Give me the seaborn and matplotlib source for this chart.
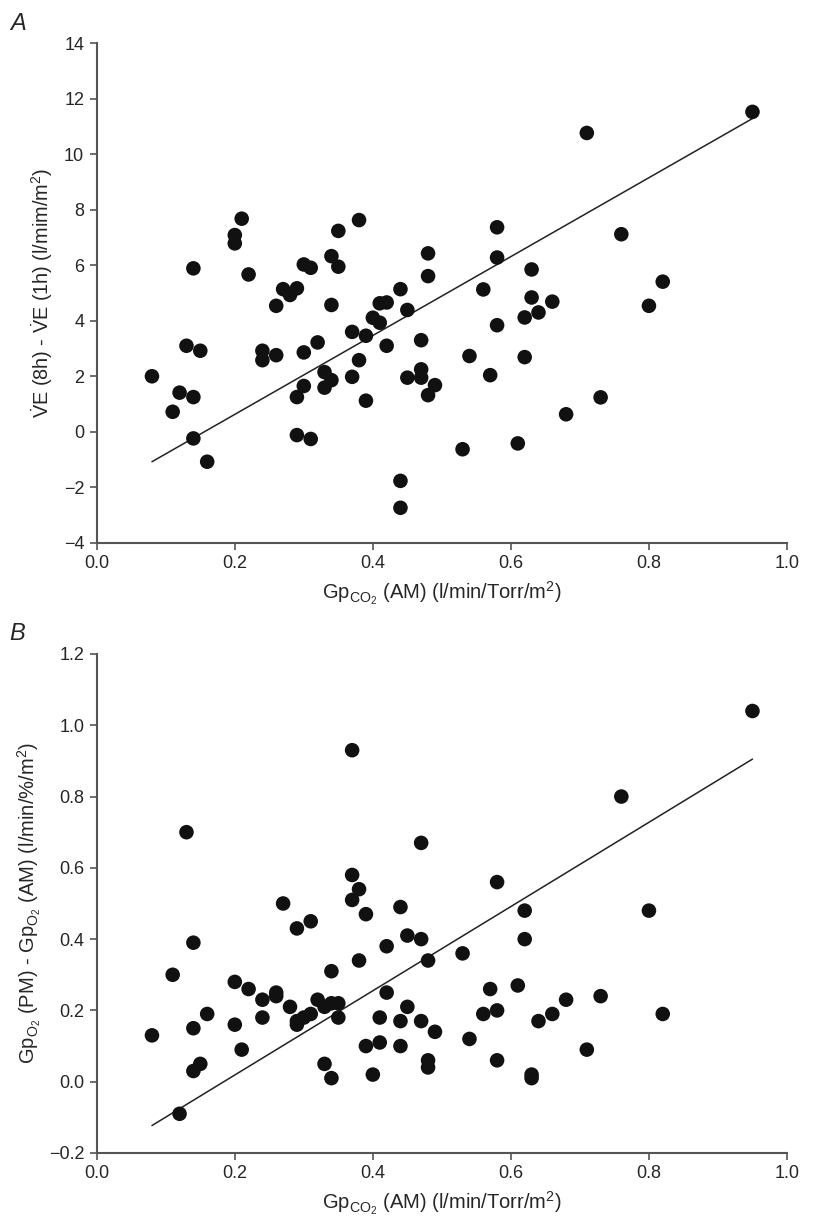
import numpy as np
import pandas as pd
import seaborn as sns
import matplotlib.pyplot as plt

# panel A: change in ventilation vs GpCO2 (AM)
gp_co2_a = [0.08, 0.11, 0.12, 0.13, 0.14, 0.14, 0.14, 0.15, 0.16, 0.20,
            0.20, 0.21, 0.22, 0.24, 0.24, 0.26, 0.26, 0.27, 0.28, 0.29,
            0.29, 0.29, 0.30, 0.30, 0.30, 0.31, 0.31, 0.32, 0.33, 0.33,
            0.34, 0.34, 0.34, 0.35, 0.35, 0.37, 0.37, 0.38, 0.38, 0.39,
            0.39, 0.40, 0.41, 0.41, 0.42, 0.42, 0.44, 0.44, 0.44, 0.45,
            0.45, 0.47, 0.47, 0.47, 0.48, 0.48, 0.48, 0.49, 0.95, 0.71,
            0.58, 0.58, 0.76, 0.63, 0.56, 0.63, 0.66, 0.62, 0.64, 0.82,
            0.80, 0.58, 0.54, 0.62, 0.57, 0.73, 0.68, 0.61, 0.53]
d_ve = [2.0, 0.72, 1.41, 3.10, 5.89, 1.25, -0.24, 2.92, -1.08, 7.09,
        6.79, 7.68, 5.67, 2.92, 2.58, 4.54, 2.76, 5.14, 4.93, 5.17,
        1.25, -0.12, 6.03, 2.86, 1.65, 5.91, -0.26, 3.22, 2.15, 1.59,
        6.33, 4.57, 1.86, 7.24, 5.95, 3.60, 1.98, 7.63, 2.58, 3.46,
        1.12, 4.11, 4.63, 3.93, 4.66, 3.10, 5.14, -1.77, -2.74, 4.39,
        1.95, 3.30, 2.25, 1.95, 6.43, 5.61, 1.32, 1.68, 11.53, 10.77,
        7.37, 6.28, 7.12, 5.85, 5.13, 4.84, 4.69, 4.12, 4.30, 5.41,
        4.54, 3.84, 2.73, 2.69, 2.04, 1.24, 0.63, -0.42, -0.63]

# panel B: change in GpO2 vs GpCO2 (AM)
gp_co2_b = [0.08, 0.11, 0.12, 0.13, 0.14, 0.14, 0.14, 0.15, 0.16, 0.20,
            0.20, 0.21, 0.22, 0.24, 0.24, 0.26, 0.26, 0.27, 0.28, 0.29,
            0.29, 0.29, 0.30, 0.31, 0.31, 0.32, 0.33, 0.33, 0.34, 0.34,
            0.34, 0.35, 0.35, 0.37, 0.37, 0.37, 0.38, 0.38, 0.39, 0.39,
            0.40, 0.41, 0.41, 0.42, 0.42, 0.44, 0.44, 0.44, 0.45, 0.45,
            0.47, 0.47, 0.47, 0.48, 0.48, 0.48, 0.49, 0.95, 0.76, 0.58,
            0.62, 0.62, 0.80, 0.53, 0.57, 0.61, 0.56, 0.58, 0.66, 0.64,
            0.68, 0.73, 0.82, 0.54, 0.58, 0.63, 0.63, 0.71]
d_gp_o2 = [0.13, 0.30, -0.09, 0.70, 0.39, 0.15, 0.03, 0.05, 0.19, 0.28,
           0.16, 0.09, 0.26, 0.23, 0.18, 0.25, 0.24, 0.50, 0.21, 0.43,
           0.17, 0.16, 0.18, 0.45, 0.19, 0.23, 0.21, 0.05, 0.31, 0.22,
           0.01, 0.22, 0.18, 0.93, 0.58, 0.51, 0.54, 0.34, 0.47, 0.10,
           0.02, 0.18, 0.11, 0.38, 0.25, 0.49, 0.17, 0.10, 0.41, 0.21,
           0.67, 0.40, 0.17, 0.34, 0.06, 0.04, 0.14, 1.04, 0.80, 0.56,
           0.48, 0.40, 0.48, 0.36, 0.26, 0.27, 0.19, 0.20, 0.19, 0.17,
           0.23, 0.24, 0.19, 0.12, 0.06, 0.02, 0.01, 0.09]

fit_x = [0.08, 0.95]
fit_a = [-1.08, 11.29]
fit_b = [-0.123, 0.905]

df_a = pd.DataFrame({'x': gp_co2_a, 'y': d_ve})
df_b = pd.DataFrame({'x': gp_co2_b, 'y': d_gp_o2})

sns.set_style('ticks')
plt.rcParams['font.family'] = ['Liberation Sans', 'DejaVu Sans']
plt.rcParams['mathtext.fontset'] = 'custom'
plt.rcParams['mathtext.rm'] = 'Liberation Sans'
plt.rcParams['mathtext.it'] = 'Liberation Sans:italic'
plt.rcParams['mathtext.bf'] = 'Liberation Sans:bold'

fig = plt.figure(figsize=(8.13, 12.21), dpi=100)
ax1 = fig.add_axes([0.119, 0.5555, 0.849, 0.409])
ax2 = fig.add_axes([0.119, 0.0557, 0.849, 0.4087])

for ax, df, fy in ((ax1, df_a, fit_a), (ax2, df_b, fit_b)):
    sns.lineplot(x=fit_x, y=fy, ax=ax, color='#222222', linewidth=1.1)
    sns.scatterplot(data=df, x='x', y='y', ax=ax, s=110,
                    color='#111111', edgecolor='none', zorder=3)

minus = lambda fmt: plt.FuncFormatter(lambda v, p: (fmt % v).replace('-', '\u2212'))

xlab = r'Gp$_{\mathrm{CO_2}}$ (AM) (l/min/Torr/m$^{\mathrm{2}}$)'

ax1.set_xlim(0, 1.0)
ax1.set_ylim(-4, 14)
ax1.set_yticks(np.arange(-4, 15, 2))
ax1.yaxis.set_major_formatter(minus('%d'))
ax1.set_ylabel(r'$\dot{\mathrm{V}}$E (8h) - $\dot{\mathrm{V}}$E (1h) (l/mim/m$^{\mathrm{2}}$)',
               fontsize=14.3, labelpad=6)

ax2.set_xlim(0, 1.0)
ax2.set_ylim(-0.2, 1.2)
ax2.set_yticks(np.arange(-0.2, 1.21, 0.2))
ax2.yaxis.set_major_formatter(minus('%.1f'))
ax2.set_ylabel(r'Gp$_{\mathrm{O_2}}$ (PM) - Gp$_{\mathrm{O_2}}$ (AM) (l/min/%/m$^{\mathrm{2}}$)',
               fontsize=14.5, labelpad=4)

for ax in (ax1, ax2):
    ax.set_xticks(np.arange(0, 1.01, 0.2))
    ax.xaxis.set_major_formatter(plt.FormatStrFormatter('%.1f'))
    ax.set_xlabel(xlab, fontsize=14.5, labelpad=5)
    ax.tick_params(axis='both', labelsize=13, length=5, width=1.2,
                   color='#555555', direction='out', pad=4)
    for s in ('left', 'bottom'):
        ax.spines[s].set_color('#555555')
        ax.spines[s].set_linewidth(1.5)
    sns.despine(ax=ax)

fig.text(0.012, 0.981, 'A', fontsize=17, style='italic', va='center')
fig.text(0.012, 0.481, 'B', fontsize=17, style='italic', va='center')

fig.savefig('out.png', dpi=100)
